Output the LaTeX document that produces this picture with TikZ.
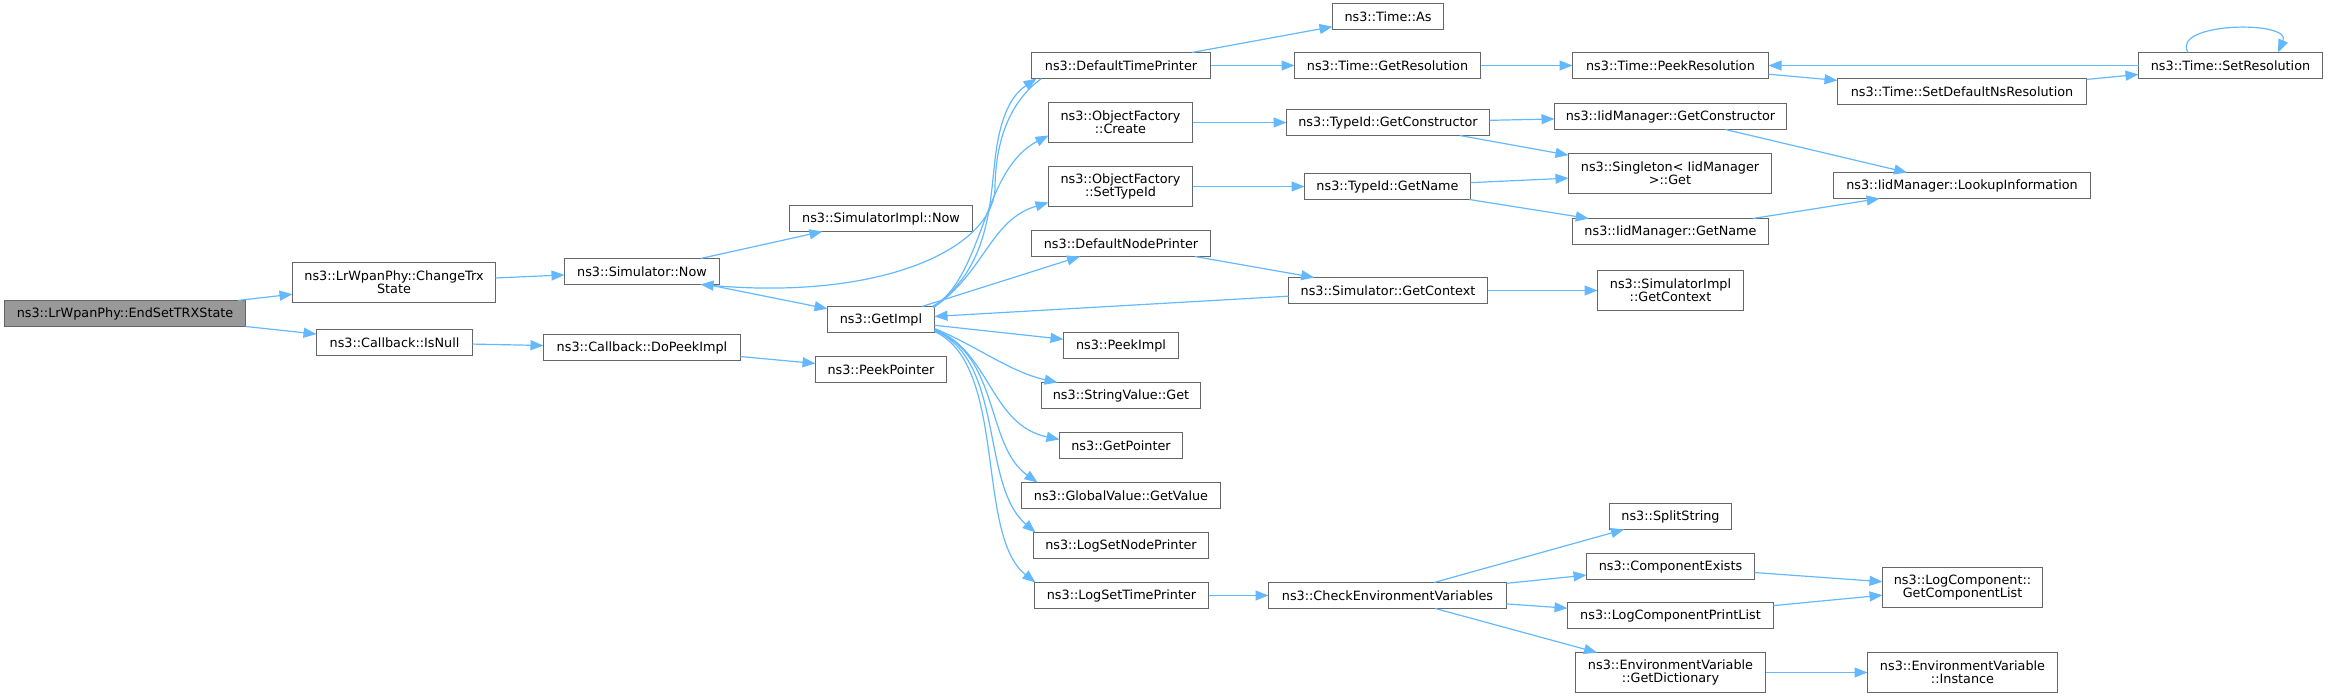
\documentclass[tikz,border=0pt]{standalone}
\usepackage{fontspec}
\setmainfont{DejaVu Sans}
\usetikzlibrary{arrows.meta,calc}
\definecolor{edgec}{HTML}{63B8FF}
\definecolor{borderc}{HTML}{666666}
\definecolor{rootc}{HTML}{999999}
\tikzset{
  box/.style={draw=borderc,fill=white,line width=0.6pt,inner sep=0pt,outer sep=0pt,align=center,
    font=\fontsize{6.4pt}{6.65pt}\selectfont},
  rootbox/.style={box,fill=rootc},
  edge/.style={draw=edgec,line width=0.6pt,-{Triangle[length=6.5pt,width=5pt]}}
}
\newcommand\nd[7][box]{\node[#1,anchor=north west,minimum width=#5*0.5pt,minimum height=#6*0.5pt] (#2) at (#3,#4) {#7};}
\begin{document}
\begin{tikzpicture}[x=0.5pt,y=-0.5pt]
\useasboundingbox (0,0) rectangle (2328,699);
% nodes: name, left, top, width, height (pixels)
\nd[rootbox]{root}{4.5}{300.5}{241}{26}{ns3::LrWpanPhy::EndSetTRXState}
\nd{chtrx}{292.5}{262.5}{203}{40}{ns3::LrWpanPhy::ChangeTrx\\State}
\nd{isnull}{316.5}{329.5}{156}{26}{ns3::Callback::IsNull}
\nd{simnow}{564.5}{258.5}{155}{26}{ns3::Simulator::Now}
\nd{dopeek}{543.5}{334.5}{197}{26}{ns3::Callback::DoPeekImpl}
\nd{simimplnow}{789.5}{205.5}{183}{26}{ns3::SimulatorImpl::Now}
\nd{getimpl}{827.5}{306.5}{107}{26}{ns3::GetImpl}
\nd{peekptr}{815.5}{356.5}{131}{26}{ns3::PeekPointer}
\nd{dtp}{1031.5}{52.5}{179}{26}{ns3::DefaultTimePrinter}
\nd{create}{1048.5}{102.5}{144}{40}{ns3::ObjectFactory\\::Create}
\nd{settypeid}{1048.5}{166.5}{144}{40}{ns3::ObjectFactory\\::SetTypeId}
\nd{dnp}{1031.5}{230.5}{179}{26}{ns3::DefaultNodePrinter}
\nd{peekimpl}{1063.5}{332.5}{115}{26}{ns3::PeekImpl}
\nd{strval}{1041.5}{382.5}{159}{26}{ns3::StringValue::Get}
\nd{getptr}{1059.5}{432.5}{123}{26}{ns3::GetPointer}
\nd{globval}{1021.5}{482.5}{199}{26}{ns3::GlobalValue::GetValue}
\nd{lsnp}{1033.5}{532.5}{175}{26}{ns3::LogSetNodePrinter}
\nd{lstp}{1034.5}{582.5}{174}{26}{ns3::LogSetTimePrinter}
\nd{timeas}{1332.5}{3.5}{111}{26}{ns3::Time::As}
\nd{getres}{1294.5}{52.5}{186}{26}{ns3::Time::GetResolution}
\nd{tgc}{1286.5}{109.5}{203}{26}{ns3::TypeId::GetConstructor}
\nd{tgn}{1304.5}{173.5}{166}{26}{ns3::TypeId::GetName}
\nd{simgc}{1288.5}{277.5}{199}{26}{ns3::Simulator::GetContext}
\nd{cev}{1268.5}{582.5}{238}{26}{ns3::CheckEnvironmentVariables}
\nd{peekres}{1572.5}{52.5}{196}{26}{ns3::Time::PeekResolution}
\nd{igc}{1554.5}{103.5}{232}{26}{ns3::IidManager::GetConstructor}
\nd{single}{1568.5}{153.5}{203}{40}{ns3::Singleton< IidManager\\>::Get}
\nd{ign}{1572.5}{218.5}{196}{26}{ns3::IidManager::GetName}
\nd{simigc}{1597.5}{270.5}{146}{40}{ns3::SimulatorImpl\\::GetContext}
\nd{split}{1609.5}{503.5}{122}{26}{ns3::SplitString}
\nd{compex}{1586.5}{553.5}{168}{26}{ns3::ComponentExists}
\nd{lcpl}{1567.5}{602.5}{206}{26}{ns3::LogComponentPrintList}
\nd{getdict}{1575.5}{652.5}{190}{40}{ns3::EnvironmentVariable\\::GetDictionary}
\nd{setdef}{1837.5}{78.5}{249}{26}{ns3::Time::SetDefaultNsResolution}
\nd{lookup}{1833.5}{172.5}{257}{26}{ns3::IidManager::LookupInformation}
\nd{gcl}{1882.5}{567.5}{160}{40}{ns3::LogComponent::\\GetComponentList}
\nd{inst}{1867.5}{652.5}{190}{40}{ns3::EnvironmentVariable\\::Instance}
\nd{setres}{2138.5}{52.5}{184}{26}{ns3::Time::SetResolution}
% straight edges
\draw[edge] (root) -- (chtrx);
\draw[edge] (root) -- (isnull);
\draw[edge] (chtrx) -- (simnow);
\draw[edge] (isnull) -- (dopeek);
\draw[edge] (dopeek) -- (peekptr);
\draw[edge] (simnow) -- (simimplnow);
\draw[edge] (simnow) -- (getimpl);
\draw[edge] (getimpl) -- (dnp);
\draw[edge] (getimpl) -- (peekimpl);
\draw[edge] (simgc) -- (getimpl);
\draw[edge] (dtp) -- (timeas);
\draw[edge] (dtp) -- (getres);
\draw[edge] (getres) -- (peekres);
\draw[edge] (peekres) -- (setdef);
\draw[edge] (setdef) -- (setres);
\draw[edge] (setres) -- (peekres);
\draw[edge] (create) -- (tgc);
\draw[edge] (tgc) -- (igc);
\draw[edge] (tgc) -- (single);
\draw[edge] (igc) -- (lookup);
\draw[edge] (settypeid) -- (tgn);
\draw[edge] (tgn) -- (single);
\draw[edge] (tgn) -- (ign);
\draw[edge] (ign) -- (lookup);
\draw[edge] (dnp) -- (simgc);
\draw[edge] (simgc) -- (simigc);
\draw[edge] (lstp) -- (cev);
\draw[edge] (cev) -- (split);
\draw[edge] (cev) -- (compex);
\draw[edge] (cev) -- (lcpl);
\draw[edge] (cev) -- (getdict);
\draw[edge] (compex) -- (gcl);
\draw[edge] (lcpl) -- (gcl);
\draw[edge] (getdict) -- (inst);
% curved edges
\draw[edge] ($(dtp.south west)+(10,0)$) .. controls (1005,105) and (995,150) .. (995,190)
  .. controls (990,250) and (880,300) .. ($(simnow.south east)+(-19,0)$);
\draw[edge] ($(getimpl.north east)+(-2,0)$) .. controls (990,270) and (990,200) .. (995,160)
  .. controls (1000,115) and (1012,95) .. ($(dtp.south west)+(5,0)$);
\draw[edge] ($(getimpl.north east)+(-1,1)$) .. controls (985,272) and (982,170) .. ($(create.south west)+(0,-7)$);
\draw[edge] ($(getimpl.north east)+(-1,1)$) .. controls (985,272) and (990,220) .. ($(settypeid.south west)+(0,-4)$);
\draw[edge] ($(getimpl.east)+(0,9)$) .. controls (975,345) and (1010,372) .. ($(strval.north west)+(16,0)$);
\draw[edge] ($(getimpl.east)+(0,10)$) .. controls (990,350) and (990,425) .. ($(getptr.west)+(0,-6)$);
\draw[edge] ($(getimpl.east)+(0,11)$) .. controls (1000,355) and (985,445) .. ($(globval.north west)+(16,0)$);
\draw[edge] ($(getimpl.east)+(0,11)$) .. controls (1005,360) and (980,485) .. ($(lsnp.north west)+(2,0)$);
\draw[edge] ($(getimpl.east)+(0,12)$) .. controls (1008,365) and (975,535) .. ($(lstp.north west)+(1,0)$);
\draw[edge] ($(setres.north)+(-42.5,0)$) .. controls (2170,22) and (2292,20) .. ($(setres.north)+(47.5,0)$);
\end{tikzpicture}
\end{document}
